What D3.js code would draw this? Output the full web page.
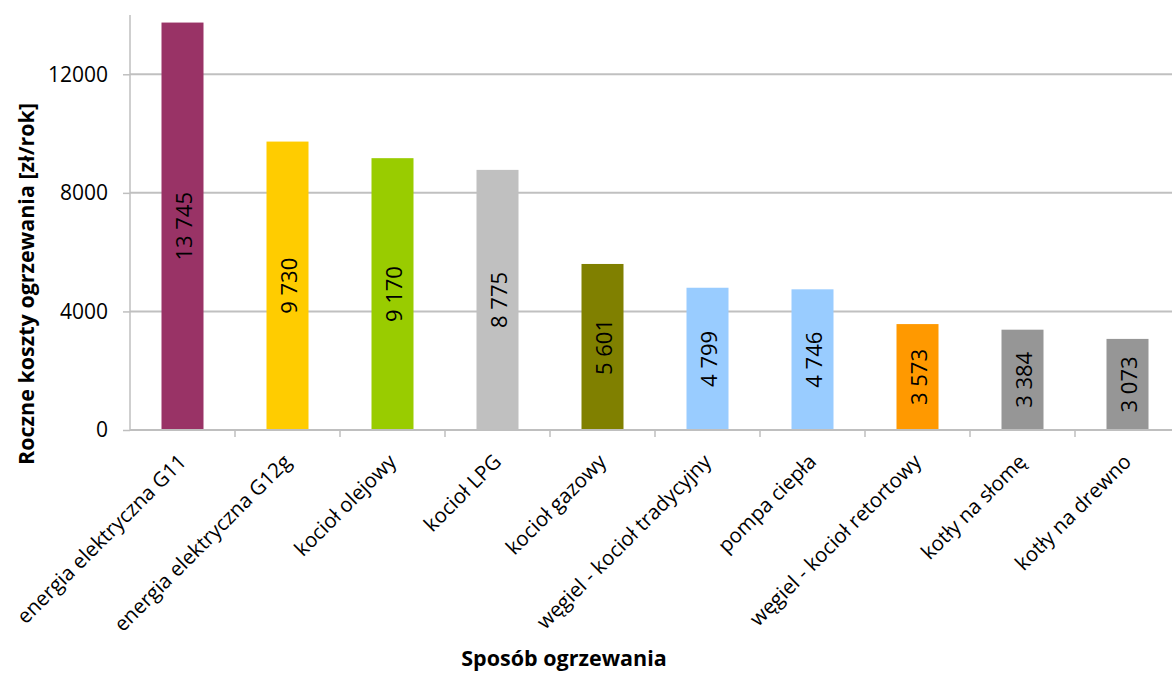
<!DOCTYPE html>
<html lang="pl">
<head>
    <meta charset="UTF-8">
    <title>Roczne koszty ogrzewania</title>
    <script src="https://cdn.jsdelivr.net/npm/d3@7/dist/d3.min.js"></script>
    <style>
        body { margin: 0; background: #fff; }
        text { font-family: "Open Sans", sans-serif; fill: #000; }
    </style>
</head>
<body>
    <div class="bar-container"></div>
</body>
<script>
    const categories = [
        'energia elektryczna G11', 'energia elektryczna G12g', 'kocioł olejowy', 'kocioł LPG',
        'kocioł gazowy', 'węgiel - kocioł tradycyjny', 'pompa ciepła', 'węgiel - kocioł retortowy',
        'kotły na słomę', 'kotły na drewno'
    ]
    const costs = [13745, 9730, 9170, 8775, 5601, 4799, 4746, 3573, 3384, 3073]
    const barColors = ['#993366', '#ffcc00', '#99cc00', '#c0c0c0', '#808000', '#99ccff', '#99ccff', '#ff9900', '#969696', '#969696']
    const yTicks = [0, 4000, 8000, 12000]

    const width = 1172
    const height = 673
    const padding = { top: 15, right: -8, bottom: 243, left: 130 }

    const xScale = d3.scaleBand()
        .domain(categories)
        .range([padding.left, width - padding.right])
        .paddingInner(0.6)
        .paddingOuter(0.3)
    const yScale = d3.scaleLinear()
        .domain([0, 14000])
        .range([height - padding.bottom, padding.top])

    const fmt = v => d3.format(',')(v).replace(/,/g, ' ')

    const svg = d3.select('.bar-container')
        .append('svg')
        .attr('width', width)
        .attr('height', height)

    // grid
    svg.append('g')
        .selectAll('line')
        .data(yTicks.filter(d => d > 0))
        .enter()
        .append('line')
        .attr('x1', padding.left)
        .attr('x2', width - padding.right)
        .attr('y1', d => yScale(d))
        .attr('y2', d => yScale(d))
        .attr('stroke', '#c0c0c0')
        .attr('stroke-width', 2)

    // y axis
    const gY = svg.append('g')
        .attr('transform', `translate(${padding.left}, 0)`)
        .call(d3.axisLeft(yScale).tickValues(yTicks).tickSize(7).tickPadding(15).tickFormat(d3.format('d')))
    gY.selectAll('path, line').attr('stroke', '#bfbfbf').attr('stroke-width', 1.5)
    gY.select('.domain').attr('d', `M0,${yScale(0)}V${padding.top}`)
    gY.selectAll('text').attr('font-size', '21px').attr('font-family', '"Open Sans", sans-serif').attr('fill', '#000')

    // bars
    svg.selectAll('.bar')
        .data(costs)
        .enter()
        .append('rect')
        .attr('class', 'bar')
        .attr('x', (d, i) => xScale(categories[i]))
        .attr('y', d => yScale(d))
        .attr('width', xScale.bandwidth())
        .attr('height', d => yScale(0) - yScale(d))
        .attr('fill', (d, i) => barColors[i])

    // x axis
    const y0 = yScale(0)
    svg.append('line')
        .attr('x1', padding.left).attr('x2', width - padding.right)
        .attr('y1', y0).attr('y2', y0)
        .attr('stroke', '#bfbfbf').attr('stroke-width', 2)
    svg.append('g')
        .selectAll('line')
        .data(categories)
        .enter()
        .append('line')
        .attr('x1', d => xScale(d) + xScale.bandwidth() / 2 + xScale.step() / 2)
        .attr('x2', d => xScale(d) + xScale.bandwidth() / 2 + xScale.step() / 2)
        .attr('y1', y0).attr('y2', y0 + 7)
        .attr('stroke', '#bfbfbf').attr('stroke-width', 1.5)

    // category labels
    svg.selectAll('.cat')
        .data(categories)
        .enter()
        .append('text')
        .attr('class', 'cat')
        .attr('transform', d => `translate(${xScale(d) + xScale.bandwidth() / 2 + 5}, ${y0 + 33}) rotate(-45)`)
        .attr('text-anchor', 'end')
        .attr('font-size', '20.5px')
        .text(d => d)

    // value labels
    svg.selectAll('.val')
        .data(costs)
        .enter()
        .append('text')
        .attr('class', 'val')
        .attr('transform', (d, i) => `translate(${xScale(categories[i]) + xScale.bandwidth() / 2}, ${(yScale(d) + y0) / 2}) rotate(-90)`)
        .attr('text-anchor', 'middle')
        .attr('dominant-baseline', 'central')
        .attr('font-size', '22px')
        .text(d => fmt(d))

    // axis titles
    svg.append('text')
        .attr('transform', `translate(25, 284) rotate(-90)`)
        .attr('text-anchor', 'middle')
        .attr('dominant-baseline', 'central')
        .attr('font-size', '21.5px')
        .attr('font-weight', 'bold')
        .text('Roczne koszty ogrzewania [zł/rok]')

    svg.append('text')
        .attr('x', 564)
        .attr('y', 666)
        .attr('text-anchor', 'middle')
        .attr('font-size', '21.5px')
        .attr('font-weight', 'bold')
        .text('Sposób ogrzewania')
</script>
</html>
